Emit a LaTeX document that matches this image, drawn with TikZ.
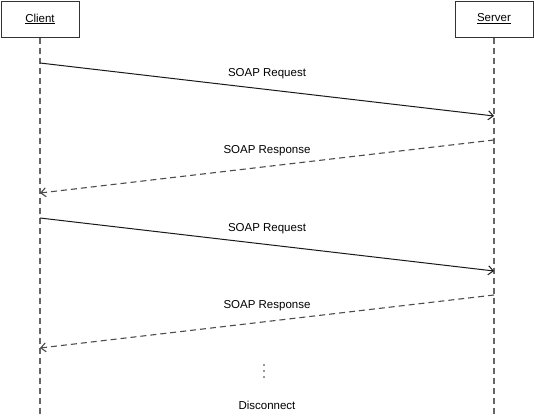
\documentclass[tikz,border=0pt]{standalone}
\usepackage{fontspec}
\setmainfont{Liberation Sans}
\usetikzlibrary{arrows.meta,positioning}
\tikzstyle{objet}=[draw=black!80, line width=1pt, minimum width=78pt, minimum height=36pt, font=\fontsize{11.5}{14}\selectfont]
\tikzstyle{vie}=[draw=black!60, line width=1.1pt, dash pattern=on 6pt off 4pt]
\tikzstyle{requete}=[draw=black!90, line width=1pt, -{Straight Barb[length=5pt,width=9pt]}]
\tikzstyle{reponse}=[requete, draw=black!70, line width=1.1pt, dash pattern=on 6pt off 4pt]
\tikzstyle{texte}=[font=\fontsize{11.5}{14}\selectfont]
\tikzstyle{etiquette}=[texte, midway, above=7pt]

\begin{document}
\begin{tikzpicture}[x=1pt,y=-1pt]
\useasboundingbox (0,0) rectangle (534,415);

% objets
\node[objet] (client) at (40,19) {\underline{Client}};
\node[objet] (serveur) at (494,19) {\underline{Server}};

% lignes de vie
\coordinate (client-fin) at (40,415);
\coordinate (serveur-fin) at (494,415);
\draw[vie] (client) -- (client-fin);
\draw[vie] (serveur) -- (serveur-fin);

% points sur les lignes
\foreach \n/\y in {1/63,2/193,3/218,4/348}
    \coordinate (c\n) at (40,\y);
\foreach \n/\y in {1/116,2/140,3/271,4/295}
    \coordinate (s\n) at (494,\y);

% messages
\draw[requete] (c1) -- node[etiquette]{SOAP Request} (s1);
\draw[reponse] (s2) -- node[etiquette]{SOAP Response} (c2);
\draw[requete] (c3) -- node[etiquette]{SOAP Request} (s3);
\draw[reponse] (s4) -- node[etiquette]{SOAP Response} (c4);

% fin
\foreach \y in {365,371,377}
    \fill[black!80] (264,\y) circle (0.9pt);
\node[texte] (fin) at (267,405) {Disconnect};

\end{tikzpicture}
\end{document}
